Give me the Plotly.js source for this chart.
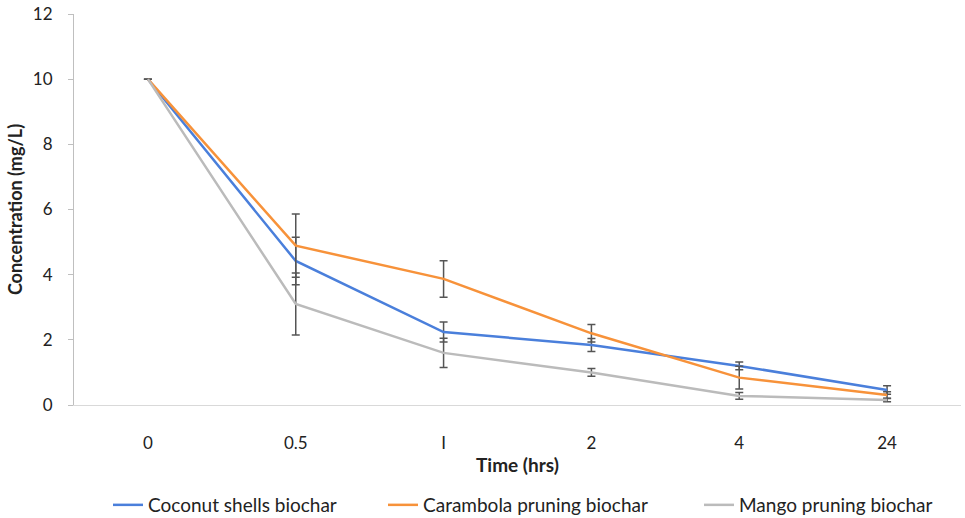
<!DOCTYPE html>
<html>
<head>
<meta charset="utf-8">
<script src="https://cdn.plot.ly/plotly-3.0.1.min.js"></script>
<style>html,body{margin:0;padding:0;background:#fff;}#chart{width:965px;height:518px;}</style>
</head>
<body>
<div id="chart"></div>
<script>
const timeLabels = ["0", "0.5", "I", "2", "4", "24"];
const coconut = [10, 4.42, 2.24, 1.84, 1.2, 0.46];
const coconutErr = [null, 0.73, 0.31, 0.2, 0.12, 0.13];
const carambola = [10, 4.89, 3.87, 2.2, 0.84, 0.31];
const carambolaErr = [null, 0.97, 0.56, 0.27, 0.35, 0.1];
const mango = [10, 3.1, 1.6, 1.0, 0.28, 0.15];
const mangoErr = [null, 0.95, 0.45, 0.12, 0.1, 0.05];
const seriesNames = ["Coconut shells biochar", "Carambola pruning biochar", "Mango pruning biochar"];

const colors = ["#4A7FDB", "#F7923A", "#BBBBBB"];
const vals = [coconut, carambola, mango];
const errs = [coconutErr, carambolaErr, mangoErr];
const legendIds = ['legend', 'legend2', 'legend3'];

const traces = vals.map((v, i) => ({
  type: 'scatter',
  mode: 'lines',
  x: timeLabels,
  y: v,
  name: seriesNames[i],
  legend: legendIds[i],
  line: {color: colors[i], width: 2.5},
  error_y: {type: 'data', array: errs[i], visible: true, color: '#555555', thickness: 1.5, width: 4}
}));

const legendBase = {
  orientation: 'h', xref: 'container', yref: 'container',
  xanchor: 'left', yanchor: 'middle', y: (518 - 505) / 518,
  font: {size: 19, color: '#222'}, bgcolor: 'rgba(0,0,0,0)', borderwidth: 0
};

const layout = {
  width: 965, height: 518,
  margin: {l: 74, r: 4, t: 14, b: 113, autoexpand: false},
  paper_bgcolor: '#fff', plot_bgcolor: '#fff',
  font: {family: 'Lato, "Open Sans", sans-serif', color: '#222', size: 17},
  showlegend: true,
  legend: Object.assign({}, legendBase, {x: (113 - 5) / 965}),
  legend2: Object.assign({}, legendBase, {x: (388 - 5) / 965}),
  legend3: Object.assign({}, legendBase, {x: (704 - 5) / 965}),
  xaxis: {
    type: 'category', range: [-0.5, 5.5],
    showgrid: false, zeroline: false,
    showline: true, linecolor: '#d9d9d9', linewidth: 1,
    ticks: '', ticklabelstandoff: 23,
    tickfont: {size: 17},
    title: {text: '<b>Time (hrs)</b>', font: {size: 19}, standoff: 6}
  },
  yaxis: {
    range: [0, 12], dtick: 2,
    showgrid: false, zeroline: false,
    showline: true, linecolor: '#bfbfbf', linewidth: 1,
    ticks: 'outside', ticklen: 5, tickcolor: '#bfbfbf',
    ticklabelstandoff: 12,
    tickfont: {size: 17},
    title: {text: '<b>Concentration (mg/L)</b>', font: {size: 18}, standoff: 5}
  }
};

Plotly.newPlot('chart', traces, layout, {displayModeBar: false, staticPlot: true});
</script>
</body>
</html>
